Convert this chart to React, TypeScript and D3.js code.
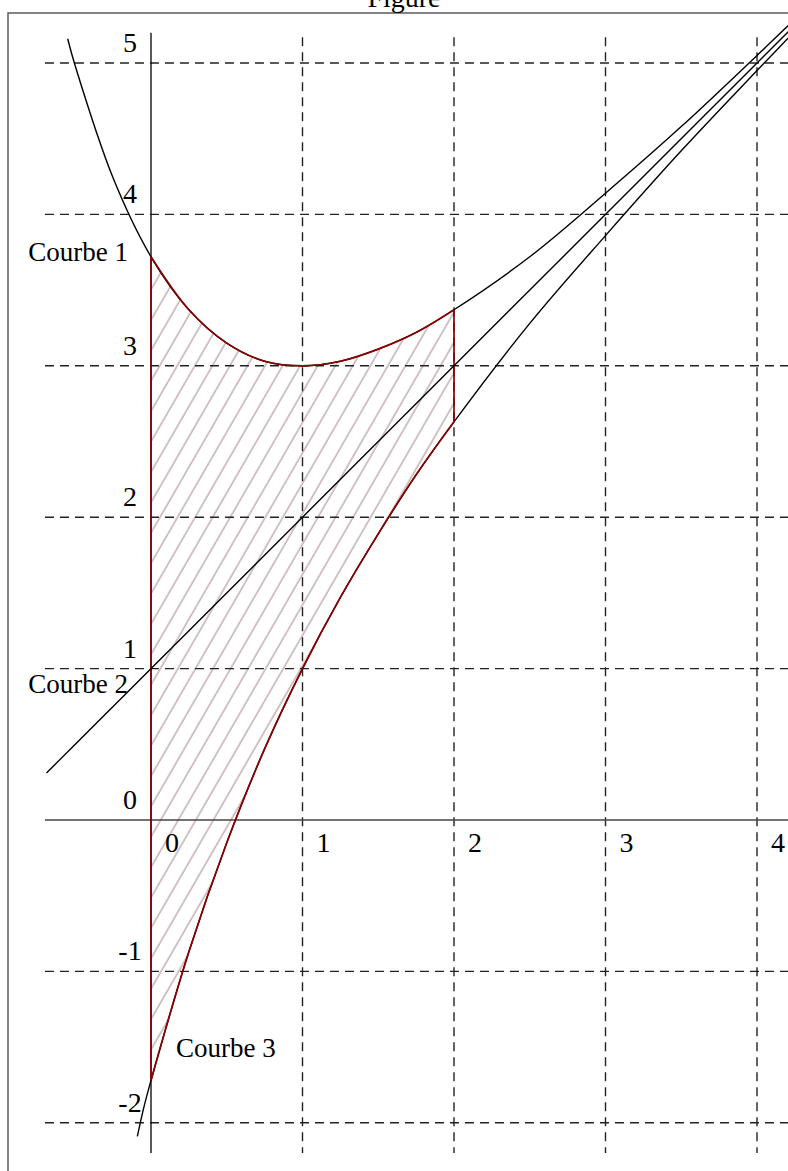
import React from "react";
import * as d3 from "d3";

// Sampled x positions and read values of the three curves
const xs = [-0.55, -0.5, -0.25, 0, 0.25, 0.5, 0.75, 1, 1.25, 1.5, 1.75, 2, 2.5, 3, 3.5, 4, 4.25];
const courbe1 = [5.16, 4.98, 4.24, 3.72, 3.37, 3.15, 3.03, 3.0, 3.03, 3.11, 3.22, 3.37, 3.72, 4.14, 4.58, 5.05, 5.29];

const xs2 = [-0.69, 4.25];
const courbe2 = [0.31, 5.25];

const xs3 = [-0.09, -0.05, 0, 0.25, 0.5, 0.75, 1, 1.25, 1.5, 1.75, 2, 2.5, 3, 3.5, 4, 4.25];
const courbe3 = [-2.09, -1.91, -1.72, -0.87, -0.15, 0.47, 1.0, 1.47, 1.89, 2.28, 2.63, 3.28, 3.86, 4.42, 4.95, 5.21];

const xTicks = [0, 1, 2, 3, 4];
const yTicks = [-2, -1, 0, 1, 2, 3, 4, 5];
const areaFrom = 0;
const areaTo = 2;
const labels = ["Courbe 1", "Courbe 2", "Courbe 3"];

const W = 788;
const H = 1171;
const FONT = "'Liberation Serif', 'Times New Roman', serif";

export default function App() {
  const x = d3.scaleLinear().domain([0, 4]).range([151, 757]);
  const y = d3.scaleLinear().domain([0, 5]).range([820, 63]);

  const gx0 = -0.7, gx1 = 4.3, gy0 = -2.2, gy1 = 5.17, ay1 = 5.2;

  const p1 = xs.map((v, i) => [v, courbe1[i]] as [number, number]);
  const p2 = xs2.map((v, i) => [v, courbe2[i]] as [number, number]);
  const p3 = xs3.map((v, i) => [v, courbe3[i]] as [number, number]);

  const line = d3
    .line<[number, number]>()
    .x((d) => x(d[0]))
    .y((d) => y(d[1]))
    .curve(d3.curveCatmullRom.alpha(0.5));
  const straight = d3.line<[number, number]>().x((d) => x(d[0])).y((d) => y(d[1]));

  const top = p1.filter((d) => d[0] >= areaFrom && d[0] <= areaTo);
  const bot = p3.filter((d) => d[0] >= areaFrom && d[0] <= areaTo);

  const area = d3
    .area<[number, number]>()
    .x((d) => x(d[0]))
    .y0((d, i) => y(bot[i][1]))
    .y1((d) => y(d[1]))
    .curve(d3.curveCatmullRom.alpha(0.5));

  const topAt = (xv: number) => top.find((d) => d[0] === xv)![1];
  const botAt = (xv: number) => bot.find((d) => d[0] === xv)![1];

  const hatchSpacing = 15.2;

  return (
    <svg
      width={W}
      height={H}
      style={{ position: "absolute", left: 0, top: 0, background: "#fff" }}
      fontFamily={FONT}
    >
      <defs>
        <pattern
          id="hatch"
          patternUnits="userSpaceOnUse"
          width={hatchSpacing}
          height={hatchSpacing}
          patternTransform="rotate(30)"
        >
          <line x1={2} y1={-2} x2={2} y2={hatchSpacing + 2} stroke="#b59c9b" strokeWidth={1.2} />
        </pattern>
        <clipPath id="clip">
          <rect x={9} y={14} width={W} height={H} />
        </clipPath>
      </defs>

      {/* frame */}
      <rect x={8} y={13} width={W + 20} height={H + 20} fill="none" stroke="#666" strokeWidth={1.6} />
      <text x={404} y={7} textAnchor="middle" fontSize={28}>
        Figure
      </text>

      <g clipPath="url(#clip)">
        {/* hatched area */}
        <path d={area(top) || ""} fill="url(#hatch)" stroke="none" />

        {/* grid */}
        {yTicks
          .filter((t) => t !== 0)
          .map((t) => (
            <line
              key={"gy" + t}
              x1={x(gx0)}
              x2={x(gx1)}
              y1={y(t)}
              y2={y(t)}
              stroke="#222"
              strokeWidth={1.4}
              strokeDasharray="9,6"
            />
          ))}
        {xTicks
          .filter((t) => t !== 0)
          .map((t) => (
            <line
              key={"gx" + t}
              x1={x(t)}
              x2={x(t)}
              y1={y(gy1)}
              y2={y(gy0)}
              stroke="#222"
              strokeWidth={1.4}
              strokeDasharray="9,6"
            />
          ))}

        {/* axes */}
        <line x1={x(gx0)} x2={x(gx1)} y1={y(0)} y2={y(0)} stroke="#444" strokeWidth={1.5} />
        <line x1={x(0)} x2={x(0)} y1={y(ay1)} y2={y(gy0)} stroke="#000" strokeWidth={1.3} />

        {/* curves */}
        <path d={line(p1) || ""} fill="none" stroke="#000" strokeWidth={1.4} />
        <path d={line(p3) || ""} fill="none" stroke="#000" strokeWidth={1.4} />
        <path d={line(top) || ""} fill="none" stroke="#8b0000" strokeWidth={1.7} />
        <path d={line(bot) || ""} fill="none" stroke="#8b0000" strokeWidth={1.7} />
        <line
          x1={x(areaFrom)}
          x2={x(areaFrom)}
          y1={y(topAt(areaFrom))}
          y2={y(botAt(areaFrom))}
          stroke="#8b0000"
          strokeWidth={1.7}
        />
        <line
          x1={x(areaTo)}
          x2={x(areaTo)}
          y1={y(topAt(areaTo))}
          y2={y(botAt(areaTo))}
          stroke="#8b0000"
          strokeWidth={1.7}
        />
        <path d={straight(p2) || ""} fill="none" stroke="#000" strokeWidth={1.4} />
      </g>

      {/* tick labels */}
      {yTicks.map((t) => (
        <text key={"ly" + t} x={x(0) - 21} y={y(t) - 11} textAnchor="middle" fontSize={28}>
          {t}
        </text>
      ))}
      {xTicks.map((t) => (
        <text key={"lx" + t} x={x(t) + 21} y={y(0) + 32} textAnchor="middle" fontSize={28}>
          {t}
        </text>
      ))}

      {/* curve labels */}
      <text x={x(0) - 23} y={y(courbe1[3]) + 4} textAnchor="end" fontSize={27}>
        {labels[0]}
      </text>
      <text x={x(0) - 23} y={y(1) + 24} textAnchor="end" fontSize={27}>
        {labels[1]}
      </text>
      <text x={x(0) + 25} y={y(courbe3[2]) - 23} textAnchor="start" fontSize={27}>
        {labels[2]}
      </text>
    </svg>
  );
}
